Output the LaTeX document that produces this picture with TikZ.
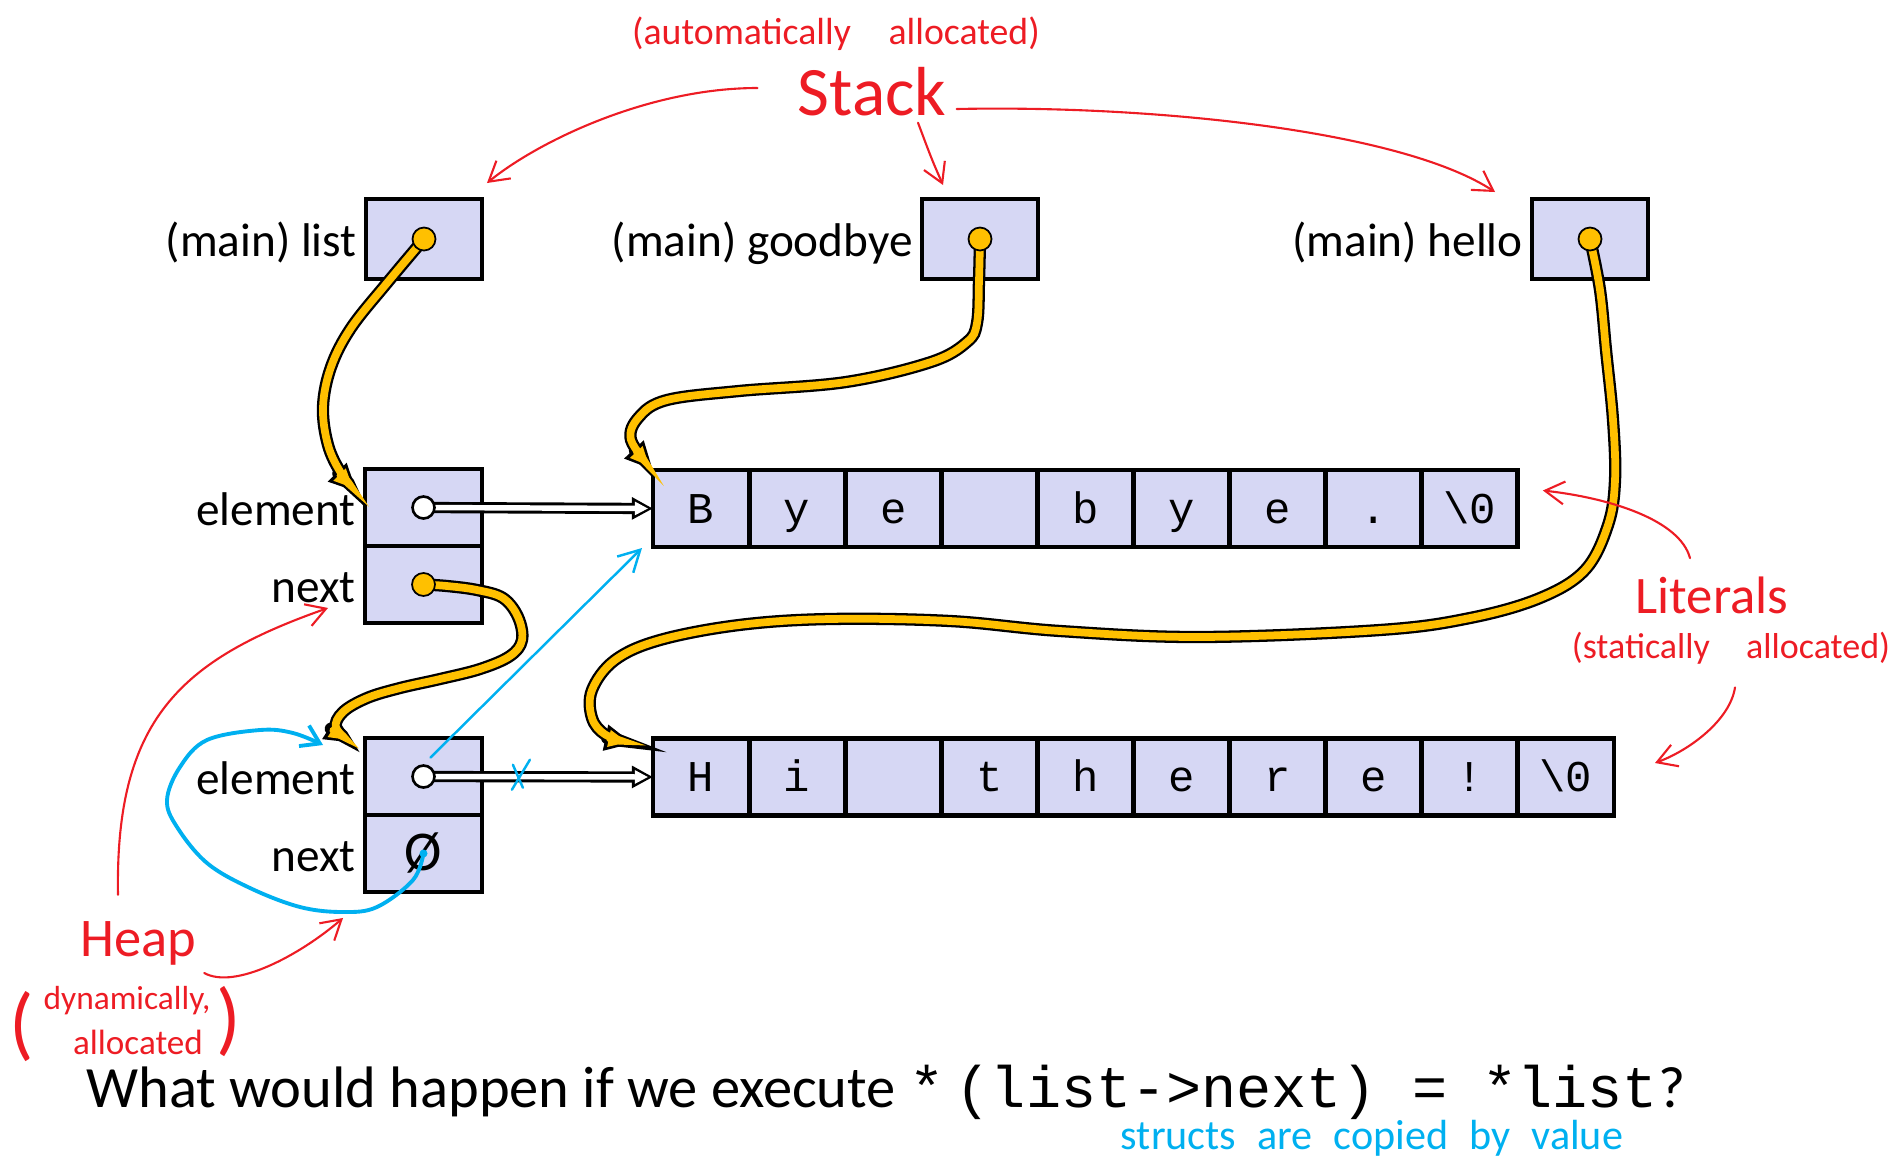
\documentclass[tikz,border=0pt]{standalone}
\usepackage{fontspec}
\setmainfont{Carlito}
\setmonofont{Liberation Mono}
\usetikzlibrary{calc,positioning,arrows.meta}

\definecolor{boxfill}{RGB}{214,215,244}
\definecolor{ptryellow}{RGB}{255,192,0}
\definecolor{inkred}{RGB}{237,28,36}
\definecolor{inkblue}{RGB}{0,176,240}

\tikzset{
	membox/.style={draw, line width=2.8pt, fill=boxfill, inner sep=0pt, outer sep=0pt, minimum width=2.32cm, minimum height=1.6cm},
	field/.style={membox, minimum width=2.34cm, minimum height=1.54cm},
	cell/.style={draw, line width=2.8pt, fill=boxfill, inner sep=0pt, outer sep=0pt, minimum width=1.922cm, minimum height=1.54cm, font=\fontsize{25}{30}\ttfamily, text height=16.5pt, text depth=0pt},
	lbl/.style={font=\fontsize{26.9}{32}\selectfont, inner sep=0pt, text height=20pt, text depth=0pt},
	wptr/.style={preaction={draw=black, line width=6.4pt, shorten >=0pt, -{Triangle[length=12pt,width=12pt]}}, draw=white, line width=3.1pt, shorten >=2.8pt, -{Triangle[length=7.5pt,width=7.2pt]}},
	yptr/.style={preaction={draw=black, line width=7pt, line cap=round, shorten >=0pt, -{Triangle[length=16pt,width=14pt]}}, draw=ptryellow, line width=4.4pt, line cap=round, shorten >=3pt, -{Triangle[length=11pt,width=9pt]}},
	inkarrow/.style={draw=inkred, line width=1.2pt, line cap=round, -{Straight Barb[length=11pt,width=13pt]}},
	handred/.style={text=inkred, inner sep=0pt},
	bluepen/.style={draw=inkblue, line width=1.4pt, line cap=round}
}

\begin{document}
\begin{tikzpicture}[x=0.02cm, y=-0.02cm]
	%%%%% START %%%%%
	\useasboundingbox (0,0) rectangle (1893,1160);
	
	\node[membox] (list) at (424,239) {};
	\node[membox] (goodbye) at (980,239) {};
	\node[membox] (hello) at (1590,239) {};
	\node[lbl, left=0.18cm of list] (listlbl) {(main) list};
	\node[lbl, left=0.18cm of goodbye] (goodbyelbl) {(main) goodbye};
	\node[lbl, left=0.18cm of hello] (hellolbl) {(main) hello};
	
	\node[field] (elem1) at (423.5,507.5) {};
	\node[field, below=0pt of elem1] (next1) {};
	\node[field] (elem2) at (423.5,776.5) {};
	\node[field, below=0pt of elem2] (next2) {\fontsize{32}{36}\selectfont\raisebox{-2pt}{Ø}};
	\node[lbl, left=0.18cm of elem1] (elem1lbl) {element};
	\node[lbl, left=0.18cm of next1] (next1lbl) {next};
	\node[lbl, left=0.18cm of elem2] (elem2lbl) {element};
	\node[lbl, left=0.18cm of next2] (next2lbl) {next};
	
	\foreach \ch [count=\i] in {B,y,e,{},b,y,e,.,{\textbackslash 0}}
		\node[cell] (bye\i) at ({653+96.1*(\i-0.5)},508.5) {\ch};
	\foreach \ch [count=\i] in {H,i,{},t,h,e,r,e,!,{\textbackslash 0}}
		\node[cell] (hi\i) at ({653+96.1*(\i-0.5)},777) {\ch};
	
	\draw[wptr] (elem1.center) -- (bye1.west);
	\draw[wptr] (elem2.center) -- (hi1.west);
	\filldraw[fill=white, draw=black, line width=1.5pt] (elem1.center) circle (11);
	\filldraw[fill=white, draw=black, line width=1.5pt] (elem2.center) circle (11);
	
	\coordinate (listtip) at ($(elem1.north west)+(-8,23)$);
	\coordinate (nexttip) at ($(elem2.north west)+(-12,5)$);
	\coordinate (hellotip) at ($(hi1.north west)+(-20,5)$);
	\draw[yptr] plot[smooth, tension=0.6] coordinates {(list.center) (387,283) (351,328) (331,367) (323,407) (328,445) (341,473) (listtip)};
	\draw[yptr] plot[smooth, tension=0.6] coordinates {(goodbye.center) (979,280) (977,323) (967,342) (931,362) (846,382) (739,391) (667,400) (639,417) (631,440) (bye1.north west)};
	\draw[yptr] plot[smooth, tension=0.6] coordinates {(hello.center) (1600,290) (1606,350) (1613,420) (1615,480) (1608,525) (1585,570) (1540,598) (1470,618) (1380,630) (1200,637) (1060,631) (950,621) (830,619) (739,625) (660,640) (615,660) (592,690) (592,718) (606,735) (hellotip)};
	\draw[yptr] plot[smooth, tension=0.6] coordinates {(next1.center) (447,586) (477,590) (503,598) (518,617) (522,640) (510,656) (480,669) (440,679) (400,688) (367,698) (343,712) (336,728) (nexttip)};
	\foreach \p in {list,goodbye,hello,next1}
		\filldraw[fill=ptryellow, draw=black, line width=1pt] (\p.center) circle (11.5);
	
	\draw[bluepen, -{Straight Barb[length=12pt,width=13pt]}] ($(elem2.center)+(7,-19)$) -- ($(bye1.south west)+(-11,1)$);
	\path (elem2.center) -- (hi1.west) coordinate[pos=0.42] (cut);
	\draw[bluepen] ($(cut)+(-8,13)$) -- ($(cut)+(10,-17)$);
	\draw[bluepen] ($(cut)+(-7,-12)$) -- ($(cut)+(3,11)$);
	\coordinate (loopend) at ($(elem2.north west)+(-42,7)$);
	\draw[bluepen, line width=2.2pt, -{Straight Barb[length=10pt,width=13pt]}] plot[smooth, tension=0.6] coordinates {(next2.center) (413,880) (377,907) (343,912) (300,907) (250,888) (207,863) (177,827) (167,800) (180,767) (207,740) (260,730) (293,733) (loopend)};
	\fill[inkblue] (next2.center) circle (4);
	
	\node[handred, font=\fontsize{21.5}{26}\selectfont] (stacknote) at (836,34) {(automatically\quad allocated)};
	\node[handred, font=\fontsize{39.5}{44}\selectfont] (stack) at (872,92) {Stack};
	\draw[inkarrow] ($(stack.west)+(-40,-4)$) .. controls (650,88) and (540,140) .. ($(list.north east)+(5,-16)$);
	\draw[inkarrow] ($(stack.south)+(46,6)$) .. controls (932,160) .. ($(goodbye.north west)+(21,-14)$);
	\draw[inkarrow] ($(stack.east)+(10,17)$) .. controls (1150,105) and (1400,130) .. ($(hello.north west)+(-37,-7)$);
	
	\node[handred, font=\fontsize{30}{34}\selectfont] (literals) at (1712,595) {Literals};
	\node[handred, font=\fontsize{20.5}{24}\selectfont] (statnote) at (1731,648) {(statically\quad allocated)};
	\draw[inkarrow] ($(literals.north)+(-22,-18)$) .. controls (1680,520) and (1610,498) .. ($(bye9.east)+(25,-18)$);
	\draw[inkarrow] ($(statnote.south)+(4,23)$) .. controls (1730,720) and (1690,750) .. ($(hi10.east)+(41,-14)$);
	
	\node[handred, font=\fontsize{31}{34}\selectfont] (heap) at (138,943) {Heap};
	\node[handred, font=\fontsize{19}{22}\selectfont] (dynnote) at (127,1001) {dynamically,};
	\node[handred, font=\fontsize{20}{24}\selectfont] (allocnote) at (138,1042) {allocated};
	\node[handred, font=\fontsize{46}{50}\selectfont] (heapopen) at (22,1027) {(};
	\node[handred, font=\fontsize{46}{50}\selectfont] (heapclose) at (229,1022) {)};
	\draw[inkarrow] ($(heap.north)+(-20,-26)$) .. controls (115,720) and (180,660) .. ($(next1.south west)+(-37,-15)$);
	\draw[inkarrow] ($(heap.east)+(8,30)$) .. controls (235,990) and (300,955) .. ($(next2.south west)+(-22,26)$);
	
	\node[anchor=base west, inner sep=0pt, font=\fontsize{33.3}{38}\selectfont] (question) at (86,1107) {What would happen if we execute \texttt{*}\hspace{0.2em}\texttt{(list->next) = *list}?};
	\node[text=inkblue, inner sep=0pt, font=\fontsize{24}{28}\selectfont] (copynote) at (1372,1138) {structs\enspace are\enspace copied\enspace by\enspace value};
	%%%%% END %%%%%
\end{tikzpicture}
\end{document}
